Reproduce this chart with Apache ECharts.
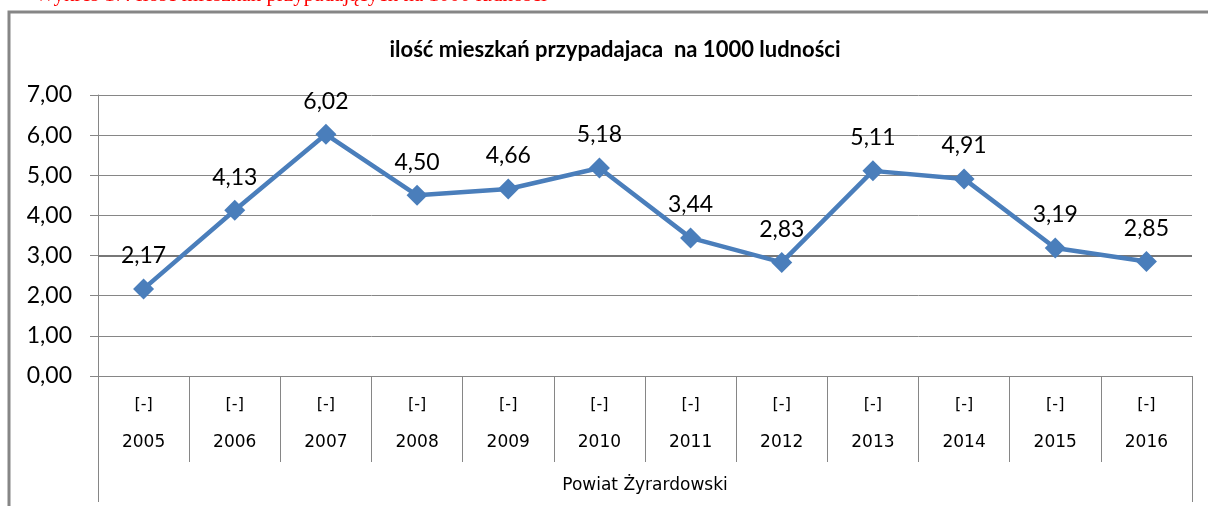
<!DOCTYPE html>
<html>
<head>
<meta charset="utf-8">
<script src="https://cdn.jsdelivr.net/npm/echarts@6/dist/echarts.min.js"></script>
<style>
  html, body { margin: 0; padding: 0; background: #fff; }
  #chart { width: 1208px; height: 506px; }
</style>
</head>
<body>
<div id="chart"></div>
<script>
  // dane z wykresu
  var years = ['2005', '2006', '2007', '2008', '2009', '2010', '2011', '2012', '2013', '2014', '2015', '2016'];
  var values = [2.17, 4.13, 6.02, 4.50, 4.66, 5.18, 3.44, 2.83, 5.11, 4.91, 3.19, 2.85];
  var groupLabel = ['Powiat Żyrardowski'];
  var subLabel = '[-]';
  var chartTitle = 'ilość mieszkań przypadajaca  na 1000 ludności';
  var captionText = 'Wykres 17. Ilość mieszkań przypadających na 1000 ludności';

  var gray = '#868686';
  var blue = '#4a7ebb';

  function fmt(v) {
    return Number(v).toFixed(2).replace('.', ',');
  }

  var chart = echarts.init(document.getElementById('chart'));
  var option = {
    animation: false,
    backgroundColor: '#fff',
    title: {
      text: chartTitle,
      left: 610,
      textAlign: 'center',
      top: 34,
      textStyle: { fontFamily: 'Lato', fontWeight: 'bold', fontSize: 22, color: '#000' }
    },
    graphic: [
      {
        type: 'text', left: 35, top: -15, z: 10,
        style: { text: captionText, fill: '#ff0000', font: '21px "Liberation Serif"' }
      },
      {
        type: 'rect', z: -1, silent: true,
        shape: { x: 9, y: 12, width: 1215, height: 520 },
        style: { fill: 'none', stroke: gray, lineWidth: 3 }
      }
    ],
    grid: { left: 98, right: 16, top: 95, bottom: 130 },
    xAxis: [
      {
        type: 'category',
        data: years,
        boundaryGap: true,
        axisLine: { show: true, lineStyle: { color: gray, width: 1 } },
        axisTick: { show: true, interval: 0, length: 86, lineStyle: { color: gray, width: 1 } },
        axisLabel: {
          interval: 0,
          margin: 10,
          formatter: function (v) { return '{a|' + subLabel + '}\n{b|' + v + '}'; },
          rich: {
            a: { fontFamily: 'DejaVu Sans', fontSize: 16, lineHeight: 38, color: '#000' },
            b: { fontFamily: 'DejaVu Sans', fontSize: 17, lineHeight: 38, color: '#000' }
          }
        },
        splitLine: { show: false }
      },
      {
        type: 'category',
        data: groupLabel,
        position: 'bottom',
        boundaryGap: true,
        axisLine: { show: false },
        axisTick: { show: true, interval: 0, length: 126, lineStyle: { color: gray, width: 1 } },
        axisLabel: { margin: 101, fontFamily: 'DejaVu Sans', fontSize: 17, color: '#000' },
        splitLine: { show: false }
      }
    ],
    yAxis: {
      type: 'value',
      min: 0,
      max: 7,
      interval: 1,
      axisLine: { show: true, lineStyle: { color: gray, width: 1 } },
      axisTick: { show: true, length: 8, lineStyle: { color: gray } },
      axisLabel: {
        margin: 26,
        formatter: fmt,
        fontFamily: 'Lato', fontSize: 23, color: '#000'
      },
      splitLine: { show: true, lineStyle: { color: gray, width: 1 } }
    },
    series: [
      {
        type: 'line',
        xAxisIndex: 0,
        data: values,
        symbol: 'path://M0,-1L1,0L0,1L-1,0Z',
        symbolSize: 21,
        showAllSymbol: true,
        lineStyle: { color: blue, width: 4.5 },
        itemStyle: { color: blue },
        label: {
          show: true,
          position: 'top',
          distance: 11,
          formatter: function (p) { return fmt(p.value); },
          fontFamily: 'Lato', fontSize: 23, color: '#000'
        },
        markLine: {
          silent: true,
          symbol: 'none',
          label: { show: false },
          lineStyle: { color: '#777', width: 2, type: 'solid' },
          data: [{ yAxis: 3 }],
          z: 1
        }
      }
    ]
  };
  chart.setOption(option);
</script>
</body>
</html>
